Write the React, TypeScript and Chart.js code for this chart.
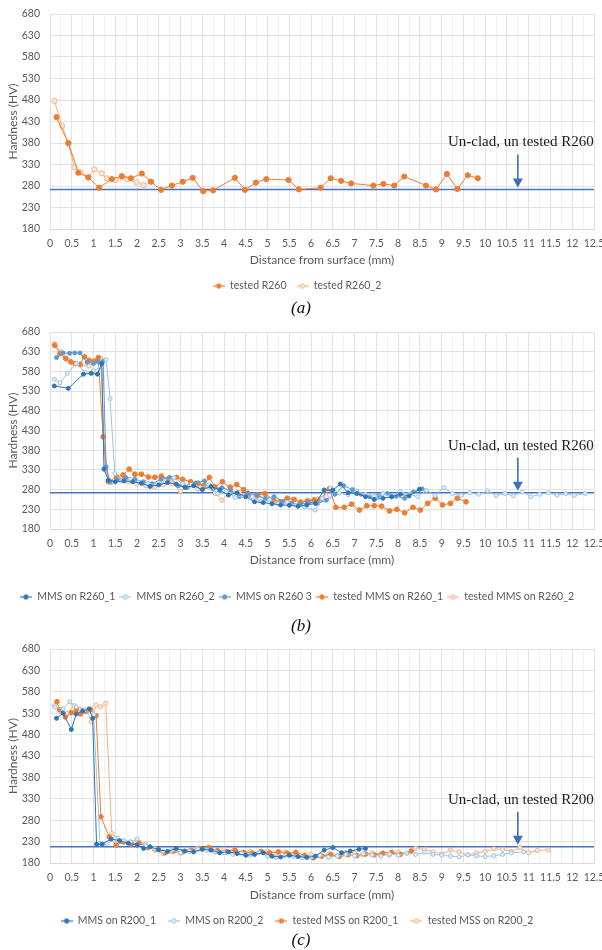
import React, { useEffect, useRef } from 'react';
import { Chart, registerables } from 'chart.js';

Chart.register(...registerables);

const SANS = 'Lato, "Open Sans", "Noto Sans", sans-serif';
const SERIF = '"Liberation Serif", "Times New Roman", serif';
const GRAY = '#595959';

// ---------- axes ----------
const X_MIN = 0;
const X_MAX = 12.5;
const X_STEP = 0.25;
const X_LABEL_STEP = 0.5;
const Y_MIN = 180;
const Y_MAX = 680;
const Y_TICKS = [180, 205, 230, 255, 280, 305, 330, 355, 380, 405, 430, 455, 480, 505, 530, 555, 580, 605, 630, 655, 680];
const Y_LABELS = [180, 230, 280, 330, 380, 430, 480, 530, 580, 630, 680];
const X_TITLE = 'Distance from surface (mm)';
const Y_TITLE = 'Hardness (HV)';
const ARROW_X = 10.75;

// ---------- panel (a) ----------
const A_BASE = 272;
const A_NOTE = 'Un-clad, un tested R260';
const A1_NAME = 'tested R260';
const A1_X = [0.15, 0.42, 0.65, 0.88, 1.13, 1.42, 1.65, 1.86, 2.11, 2.32, 2.55, 2.8, 3.05, 3.28, 3.52, 3.75, 4.25, 4.48, 4.73, 4.97, 5.48, 5.72, 6.22, 6.45, 6.69, 6.92, 7.43, 7.66, 7.91, 8.14, 8.64, 8.87, 9.12, 9.36, 9.6, 9.83];
const A1_Y = [440, 380, 311, 300, 276, 296, 303, 298, 309, 290, 271, 281, 290, 299, 268, 270, 299, 271, 288, 296, 294, 272, 276, 298, 292, 286, 281, 285, 281, 302, 281, 272, 308, 273, 305, 298];
const A2_NAME = 'tested R260_2';
const A2_X = [0.1, 0.28, 0.42, 0.56, 0.7, 0.88, 1.02, 1.19, 1.3, 1.51, 1.65, 1.78, 1.99, 2.15, 2.32];
const A2_Y = [478, 420, 379, 324, 312, 300, 319, 309, 298, 294, 300, 296, 288, 282, 290];

// ---------- panel (b) ----------
const B_BASE = 272;
const B_NOTE = 'Un-clad, un tested R260';
const B1_NAME = 'MMS on R260_1';
const B1_X = [0.1, 0.42, 0.77, 0.95, 1.09, 1.19, 1.24, 1.34, 1.5, 1.7, 1.9, 2.1, 2.3, 2.5, 2.7, 2.9, 3.1, 3.3, 3.5, 3.7, 3.9, 4.1, 4.3, 4.5, 4.7, 4.9, 5.1, 5.3, 5.5, 5.7, 5.9, 6.1, 6.3, 6.5, 6.67, 6.85, 7.05, 7.25, 7.45, 7.65, 7.85, 8.05, 8.25, 8.49];
const B1_Y = [543, 537, 573, 575, 573, 600, 332, 304, 300, 302, 300, 296, 288, 292, 298, 294, 286, 290, 280, 288, 279, 266, 272, 262, 249, 247, 244, 241, 240, 238, 241, 245, 279, 279, 294, 272, 270, 262, 255, 258, 262, 268, 264, 281];
const B2_NAME = 'MMS on R260_2';
const B2_X = [0.1, 0.23, 0.4, 0.61, 0.8, 1.0, 1.15, 1.29, 1.38, 1.49, 1.65, 1.85, 2.05, 2.25, 2.45, 2.65, 2.85, 3.05, 3.25, 3.45, 3.65, 3.85, 4.05, 4.25, 4.45, 4.65, 4.85, 5.05, 5.25, 5.45, 5.65, 5.85, 6.09, 6.25, 6.45, 6.65, 6.85, 7.05, 7.25, 7.45, 7.65, 7.85, 8.05, 8.25, 8.45, 8.65, 8.85, 9.05, 9.25, 9.45, 9.65, 9.85, 10.05, 10.25, 10.45, 10.65, 10.85, 11.05, 11.25, 11.45, 11.65, 11.85, 12.05, 12.3];
const B2_Y = [560, 551, 575, 600, 578, 582, 591, 610, 511, 321, 302, 306, 298, 296, 292, 300, 310, 295, 292, 285, 292, 270, 275, 260, 264, 262, 250, 254, 244, 248, 240, 236, 228, 258, 284, 272, 266, 276, 268, 263, 270, 261, 275, 268, 262, 278, 265, 285, 270, 266, 272, 268, 277, 265, 270, 264, 274, 262, 268, 272, 266, 269, 265, 270];
const B3_NAME = 'MMS on R260 3';
const B3_X = [0.15, 0.3, 0.45, 0.57, 0.69, 0.85, 1.0, 1.11, 1.22, 1.29, 1.38, 1.55, 1.75, 1.95, 2.15, 2.35, 2.55, 2.75, 2.95, 3.15, 3.35, 3.55, 3.75, 3.95, 4.15, 4.35, 4.55, 4.75, 4.95, 5.15, 5.35, 5.55, 5.75, 5.95, 6.15, 6.35, 6.55, 6.75, 6.95, 7.15, 7.35, 7.55, 7.75, 7.95, 8.15, 8.35, 8.55];
const B3_Y = [615, 627, 626, 627, 627, 603, 600, 604, 606, 338, 300, 305, 310, 306, 300, 295, 306, 311, 290, 285, 297, 302, 282, 285, 278, 262, 272, 265, 258, 262, 250, 246, 243, 248, 245, 253, 268, 290, 280, 268, 262, 265, 270, 263, 258, 274, 282];
const B4_NAME = 'tested MMS on R260_1';
const B4_X = [0.11, 0.23, 0.36, 0.48, 0.59, 0.69, 0.79, 0.9, 1.02, 1.11, 1.22, 1.34, 1.53, 1.68, 1.82, 1.95, 2.1, 2.26, 2.41, 2.56, 2.73, 2.91, 3.05, 3.23, 3.4, 3.53, 3.66, 3.79, 3.96, 4.14, 4.29, 4.45, 4.6, 4.77, 4.94, 5.13, 5.29, 5.45, 5.61, 5.76, 5.91, 6.07, 6.21, 6.42, 6.57, 6.76, 6.93, 7.11, 7.28, 7.45, 7.62, 7.8, 7.97, 8.15, 8.34, 8.51, 8.68, 8.85, 9.02, 9.2, 9.36, 9.56];
const B4_Y = [646, 625, 613, 604, 600, 598, 617, 608, 606, 615, 414, 300, 312, 317, 332, 319, 319, 312, 311, 314, 308, 311, 306, 300, 296, 290, 311, 287, 300, 286, 293, 280, 266, 266, 270, 254, 249, 258, 255, 248, 251, 254, 255, 282, 235, 235, 243, 228, 239, 239, 238, 226, 230, 221, 235, 228, 245, 258, 241, 245, 258, 249];
const B5_NAME = 'tested MMS on R260_2';
const B5_X = [0.1, 0.25, 0.4, 0.55, 0.7, 0.9, 1.05, 1.17, 1.27, 1.4, 1.6, 1.8, 2.0, 2.2, 2.4, 2.6, 2.8, 3.0, 3.2, 3.4, 3.6, 3.8, 3.95, 4.15, 4.35, 4.55, 4.75, 4.95, 5.15, 5.35, 5.55, 5.75, 5.95, 6.15, 6.35];
const B5_Y = [650, 630, 610, 600, 596, 594, 605, 612, 330, 298, 305, 300, 294, 290, 286, 292, 296, 276, 290, 282, 288, 270, 253, 275, 272, 268, 262, 258, 250, 246, 254, 248, 252, 256, 262];

// ---------- panel (c) ----------
const C_BASE = 218;
const C_NOTE = 'Un-clad, un tested R200';
const C1_NAME = 'MMS on R200_1';
const C1_X = [0.15, 0.3, 0.49, 0.6, 0.75, 0.9, 0.98, 1.07, 1.2, 1.4, 1.6, 1.8, 2.0, 2.15, 2.3, 2.5, 2.7, 2.9, 3.1, 3.3, 3.5, 3.7, 3.9, 4.1, 4.3, 4.5, 4.7, 4.9, 5.1, 5.3, 5.5, 5.7, 5.9, 6.1, 6.3, 6.5, 6.7, 6.9, 7.1, 7.25];
const C1_Y = [518, 530, 492, 528, 535, 540, 518, 224, 224, 236, 232, 226, 222, 214, 218, 211, 207, 214, 208, 206, 212, 210, 204, 206, 202, 198, 200, 204, 196, 194, 198, 195, 193, 196, 210, 216, 204, 208, 212, 214];
const C2_NAME = 'MMS on R200_2';
const C2_X = [0.12, 0.3, 0.45, 0.6, 0.8, 1.0, 1.15, 1.3, 1.5, 1.7, 1.85, 2.0, 2.2, 2.4, 2.6, 2.8, 3.0, 3.2, 3.4, 3.6, 3.8, 4.0, 4.2, 4.4, 4.6, 4.8, 5.0, 5.2, 5.4, 5.6, 5.8, 6.0, 6.2, 6.4, 6.6, 6.8, 7.0, 7.2, 7.4, 7.6, 7.8, 8.0, 8.2, 8.4, 8.6, 8.8, 9.0, 9.2, 9.4, 9.6, 9.8, 10.0, 10.2, 10.4, 10.6, 10.88];
const C2_Y = [544, 540, 557, 545, 538, 527, 224, 226, 238, 232, 230, 236, 220, 214, 208, 210, 204, 208, 212, 210, 206, 204, 200, 203, 198, 204, 196, 193, 197, 195, 192, 194, 198, 193, 196, 200, 197, 202, 199, 196, 201, 198, 203, 200, 205, 200, 198, 196, 194, 199, 197, 195, 197, 200, 204, 206];
const C3_NAME = 'tested MSS on R200_1';
const C3_X = [0.16, 0.22, 0.35, 0.49, 0.6, 0.7, 0.81, 0.93, 1.06, 1.17, 1.36, 1.52, 1.69, 1.87, 2.05, 2.25, 2.45, 2.65, 2.85, 3.05, 3.25, 3.45, 3.65, 3.85, 4.05, 4.25, 4.45, 4.65, 4.85, 5.05, 5.25, 5.45, 5.65, 5.85, 6.05, 6.25, 6.45, 6.65, 6.85, 7.05, 7.25, 7.45, 7.65, 7.85, 8.05, 8.3];
const C3_Y = [557, 538, 521, 531, 538, 528, 534, 539, 524, 288, 241, 222, 229, 224, 227, 216, 212, 204, 208, 206, 210, 214, 216, 209, 206, 210, 205, 203, 207, 204, 206, 203, 205, 198, 192, 196, 200, 195, 199, 197, 201, 199, 203, 205, 200, 208];
const C4_NAME = 'tested MSS on R200_2';
const C4_X = [0.1, 0.25, 0.4, 0.55, 0.7, 0.85, 0.95, 1.06, 1.16, 1.28, 1.42, 1.55, 1.7, 1.85, 2.0, 2.2, 2.4, 2.6, 2.8, 3.0, 3.2, 3.4, 3.6, 3.8, 4.0, 4.2, 4.4, 4.6, 4.8, 5.0, 5.2, 5.4, 5.6, 5.8, 6.0, 6.2, 6.4, 6.6, 6.8, 7.0, 7.2, 7.4, 7.6, 7.8, 8.0, 8.2, 8.4, 8.6, 8.8, 9.0, 9.2, 9.4, 9.6, 9.8, 10.0, 10.2, 10.4, 10.6, 10.8, 11.0, 11.2, 11.46];
const C4_Y = [548, 535, 530, 548, 540, 535, 510, 549, 545, 553, 249, 238, 230, 226, 232, 224, 210, 202, 206, 203, 208, 215, 210, 205, 212, 208, 204, 207, 204, 208, 203, 206, 199, 193, 200, 196, 201, 197, 205, 203, 199, 204, 201, 198, 206, 203, 214, 212, 206, 201, 210, 206, 199, 203, 207, 213, 212, 207, 216, 204, 209, 211];

// ---------- styles ----------
const ORANGE = '#ED7D31';
const ORANGE_L = '#F4B183';
const ORANGE_F = '#FCE9DC';
const BLUE_D = '#2E75B6';
const BLUE_M = '#5B9BD5';
const BLUE_L = '#9DC3E6';
const BLUE_F = '#E3EEF9';
const BASE_COLOR = '#4472C4';
const ARROW_COLOR = '#3F6FB8';
const LEGEND_FONT = 10.5;

function pts(xs: number[], ys: number[]) {
  return xs.map((x, i) => ({ x, y: ys[i] }));
}

function series(label: string, xs: number[], ys: number[], line: string, fill: string, stroke: string, r: number) {
  return {
    label,
    data: pts(xs, ys),
    showLine: true,
    borderColor: line,
    borderWidth: 1,
    pointRadius: r,
    pointBackgroundColor: fill,
    pointBorderColor: stroke,
    pointBorderWidth: 1,
    tension: 0,
  };
}

function baseline(v: number) {
  return {
    label: '__base',
    isBase: true,
    data: [{ x: X_MIN, y: v }, { x: X_MAX, y: v }],
    showLine: true,
    borderColor: BASE_COLOR,
    borderWidth: 1.6,
    pointRadius: 0,
  };
}

function makeSymbol(line: string, fill: string, stroke: string) {
  const c = document.createElement('canvas');
  c.width = 12;
  c.height = 7;
  const g = c.getContext('2d')!;
  g.strokeStyle = line;
  g.lineWidth = 1.2;
  g.beginPath();
  g.moveTo(0, 3.5);
  g.lineTo(12, 3.5);
  g.stroke();
  g.beginPath();
  g.arc(6, 3.5, 2.2, 0, Math.PI * 2);
  g.fillStyle = fill;
  g.fill();
  g.strokeStyle = stroke;
  g.lineWidth = 1;
  g.stroke();
  return c;
}

const notePlugin = {
  id: 'refNote',
  afterDatasetsDraw(chart: any, _args: any, opts: any) {
    if (!opts || !opts.text) return;
    const { ctx } = chart;
    const xs = chart.scales.x;
    const ys = chart.scales.y;
    const ax = xs.getPixelForValue(opts.x);
    const ly = ys.getPixelForValue(opts.y);
    ctx.save();
    ctx.font = `15px ${SERIF}`;
    ctx.fillStyle = '#1b1b1b';
    ctx.textAlign = 'center';
    ctx.textBaseline = 'middle';
    ctx.fillText(opts.text, ax + 3, ly - 47);
    ctx.strokeStyle = ARROW_COLOR;
    ctx.lineWidth = 1.6;
    ctx.beginPath();
    ctx.moveTo(ax, ly - 35);
    ctx.lineTo(ax, ly - 10);
    ctx.stroke();
    ctx.fillStyle = ARROW_COLOR;
    ctx.beginPath();
    ctx.moveTo(ax - 5, ly - 11);
    ctx.lineTo(ax + 5, ly - 11);
    ctx.lineTo(ax, ly - 2);
    ctx.closePath();
    ctx.fill();
    ctx.restore();
  },
};

const isMult = (v: number, s: number) => Math.abs(v / s - Math.round(v / s)) < 1e-6;

type Spec = {
  top: number;
  height: number;
  padTop: number;
  padBottom: number;
  xH: number;
  titlePad: number;
  legendPad: number;
  base: number;
  note: string;
  datasets: any[];
};

function buildConfig(s: Spec): any {
  return {
    type: 'scatter',
    data: { datasets: [...s.datasets, baseline(s.base)] },
    plugins: [notePlugin],
    options: {
      responsive: false,
      animation: false,
      devicePixelRatio: 1,
      layout: { padding: { top: s.padTop, bottom: s.padBottom, left: 0, right: 8 } },
      scales: {
        x: {
          type: 'linear',
          min: X_MIN,
          max: X_MAX,
          ticks: {
            stepSize: X_STEP,
            autoSkip: false,
            maxRotation: 0,
            minRotation: 0,
            padding: 8.3,
            color: GRAY,
            font: { family: SANS, size: 10.5 },
            callback: (v: number) => (isMult(v, X_LABEL_STEP) ? String(v) : ''),
          },
          grid: {
            drawTicks: false,
            lineWidth: 1,
            color: (c: any) => (c.tick && isMult(c.tick.value, X_LABEL_STEP) ? '#E2E2E2' : '#F1F1F1'),
          },
          border: { display: true, color: '#D9D9D9', width: 1 },
          title: {
            display: true,
            text: X_TITLE,
            color: GRAY,
            font: { family: SANS, size: 12 },
            padding: { top: 0, bottom: s.titlePad },
          },
          afterFit: (scale: any) => {
            scale.height = s.xH;
            scale.paddingLeft = 0;
            scale.paddingRight = 0;
          },
        },
        y: {
          type: 'linear',
          min: Y_MIN,
          max: Y_MAX,
          afterBuildTicks: (scale: any) => {
            scale.ticks = Y_TICKS.map((v) => ({ value: v }));
          },
          ticks: {
            padding: 10,
            color: GRAY,
            font: { family: SANS, size: 10.5 },
            callback: (v: number) => (Y_LABELS.includes(v) ? String(v) : ''),
          },
          grid: {
            drawTicks: false,
            lineWidth: 1,
            color: (c: any) => (c.tick && Y_LABELS.includes(c.tick.value) ? '#E2E2E2' : '#F3F3F3'),
          },
          border: { display: false },
          title: {
            display: true,
            text: Y_TITLE,
            color: GRAY,
            font: { family: SANS, size: 12 },
            padding: { top: 6, bottom: 0 },
          },
          afterFit: (scale: any) => {
            scale.width = 50;
            scale.paddingTop = 0;
            scale.paddingBottom = 0;
          },
        },
      },
      plugins: {
        tooltip: { enabled: false },
        refNote: { text: s.note, x: ARROW_X, y: s.base },
        legend: {
          display: true,
          position: 'bottom',
          labels: {
            usePointStyle: true,
            pointStyleWidth: 12,
            padding: s.legendPad,
            color: GRAY,
            font: { family: SANS, size: LEGEND_FONT },
            generateLabels: (chart: any) =>
              chart.data.datasets
                .map((ds: any, i: number) => ({ ds, i }))
                .filter(({ ds }: any) => !ds.isBase)
                .map(({ ds, i }: any) => ({
                  text: ds.label,
                  pointStyle: makeSymbol(ds.borderColor, ds.pointBackgroundColor, ds.pointBorderColor),
                  fillStyle: ds.pointBackgroundColor,
                  strokeStyle: ds.borderColor,
                  lineWidth: 0,
                  hidden: false,
                  datasetIndex: i,
                  fontColor: GRAY,
                })),
          },
        },
      },
    },
  };
}

const SPEC_A: Spec = {
  top: 0, height: 305, padTop: 14, padBottom: 3.75, xH: 41.75, titlePad: 3.55, legendPad: 10, base: A_BASE, note: A_NOTE,
  datasets: [
    series(A1_NAME, A1_X, A1_Y, ORANGE, ORANGE, ORANGE, 2.6),
    series(A2_NAME, A2_X, A2_Y, ORANGE_L, ORANGE_F, ORANGE_L, 2.6),
  ],
};

const SPEC_B: Spec = {
  top: 310, height: 305, padTop: 22, padBottom: 2.75, xH: 58.75, titlePad: 20.55, legendPad: 4, base: B_BASE, note: B_NOTE,
  datasets: [
    series(B1_NAME, B1_X, B1_Y, BLUE_D, BLUE_D, BLUE_D, 2),
    series(B2_NAME, B2_X, B2_Y, BLUE_L, BLUE_F, BLUE_L, 2),
    series(B3_NAME, B3_X, B3_Y, BLUE_M, BLUE_M, BLUE_M, 2),
    series(B4_NAME, B4_X, B4_Y, ORANGE, ORANGE, ORANGE, 2.4),
    series(B5_NAME, B5_X, B5_Y, ORANGE_L, ORANGE_F, ORANGE_L, 2.2),
  ],
};

const SPEC_C: Spec = {
  top: 625, height: 320, padTop: 24, padBottom: 8.75, xH: 40.75, titlePad: 1.55, legendPad: 12, base: C_BASE, note: C_NOTE,
  datasets: [
    series(C1_NAME, C1_X, C1_Y, BLUE_D, BLUE_D, BLUE_D, 2),
    series(C2_NAME, C2_X, C2_Y, BLUE_L, BLUE_F, BLUE_L, 2),
    series(C3_NAME, C3_X, C3_Y, ORANGE, ORANGE, ORANGE, 2.3),
    series(C4_NAME, C4_X, C4_Y, ORANGE_L, ORANGE_F, ORANGE_L, 2.1),
  ],
};

function Panel({ spec }: { spec: Spec }) {
  const ref = useRef<HTMLCanvasElement | null>(null);
  useEffect(() => {
    if (!ref.current) return;
    const chart = new Chart(ref.current, buildConfig(spec));
    return () => chart.destroy();
  }, [spec]);
  return (
    <canvas
      ref={ref}
      width={602}
      height={spec.height}
      style={{ position: 'absolute', left: 0, top: spec.top, width: 602, height: spec.height }}
    />
  );
}

const CAPTIONS = [
  { text: '(a)', y: 308 },
  { text: '(b)', y: 626 },
  { text: '(c)', y: 940 },
];

export default function App() {
  return (
    <div style={{ position: 'absolute', left: 0, top: 0, width: 602, height: 950, background: '#ffffff', overflow: 'hidden' }}>
      <Panel spec={SPEC_A} />
      <Panel spec={SPEC_B} />
      <Panel spec={SPEC_C} />
      {CAPTIONS.map((c) => (
        <div
          key={c.text}
          style={{
            position: 'absolute',
            left: 0,
            width: 602,
            top: c.y - 10,
            height: 20,
            lineHeight: '20px',
            textAlign: 'center',
            fontFamily: SERIF,
            fontStyle: 'italic',
            fontSize: 17,
            color: '#111',
          }}
        >
          {c.text}
        </div>
      ))}
    </div>
  );
}
